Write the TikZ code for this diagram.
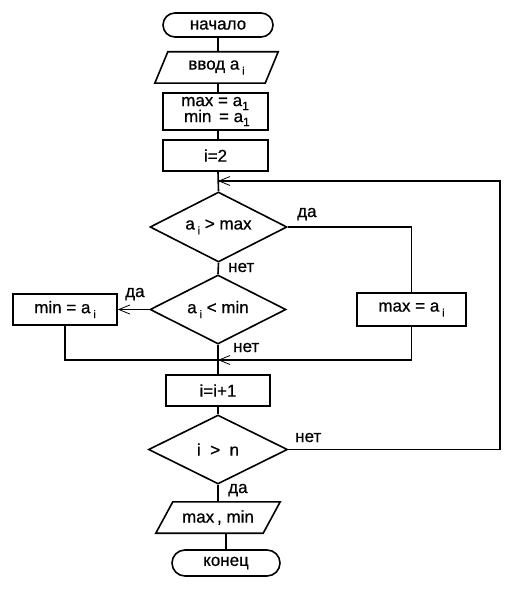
\documentclass[tikz,border=0pt]{standalone}
\usepackage{fontspec}
\setmainfont{Liberation Sans}[BoldFont={Liberation Sans},BoldFeatures={FakeBold=0.7}]
\usetikzlibrary{shapes.geometric,shapes.misc,arrows.meta}
\newcommand\subi{\,\raisebox{-5pt}{\fontsize{11}{11}\selectfont i}}
\newcommand\subone{\raisebox{-4pt}{\fontsize{12}{12}\selectfont 1}}
\begin{document}
\begin{tikzpicture}[x=1pt,y=-1pt,
  font=\fontsize{17}{19}\selectfont\bfseries,
  line/.style={line width=1.6pt},
  arr/.style={-{Straight Barb[length=11pt,width=9pt,line width=0.8pt]}},
  term/.style={rounded rectangle,draw,line width=1.6pt,inner sep=0pt},
  procbox/.style={rectangle,draw,line width=1.6pt,inner sep=0pt},
  iobox/.style={rectangle,inner sep=0pt},
  decide/.style={diamond,draw,line width=1.6pt,inner sep=0pt,aspect=2},
  lbl/.style={inner sep=0pt,anchor=base west}]
\useasboundingbox (0,0) rectangle (527,596);
% nodes
\node[term,minimum width=110pt,minimum height=24pt] (start) at (218,25) {начало};
\node[iobox,minimum width=110pt,minimum height=31pt] (in) at (216.5,67.5) {ввод a\subi};
\draw[line] ([xshift=6.5pt]in.north west) -- ([xshift=6.5pt]in.north east)
  -- ([xshift=-6.5pt]in.south east) -- ([xshift=-6.5pt]in.south west) -- cycle;
\node[procbox,minimum width=105pt,minimum height=37pt,align=left] (mm) at (215.5,111.5)
  {max = a\subone\\[-3pt]\,min \,= a\subone};
\node[procbox,minimum width=105pt,minimum height=31pt] (i2) at (215.5,155.5) {i=2};
\coordinate (j1) at (218,181);
\node[decide,minimum width=137pt,minimum height=70pt] (d1) at (218.5,227) {a\subi\ > max};
\node[decide,minimum width=136pt,minimum height=69pt] (d2) at (218,309.5) {a\subi\ <\ min};
\node[procbox,minimum width=104pt,minimum height=31pt] (minb) at (65,309.5) {min = a\subi};
\node[procbox,minimum width=109pt,minimum height=33pt] (maxb) at (411.5,309.5) {max = a\subi};
\coordinate (j2) at (218,360);
\node[procbox,minimum width=104pt,minimum height=31pt] (inc) at (218,390.5) {i=i+1};
\node[decide,minimum width=139pt,minimum height=69pt] (d3) at (218,449.5) {i \ > \ n};
\coordinate (loopc) at (500,181);
\node[iobox,minimum width=107pt,minimum height=31pt] (out) at (218,517.5) {max\,, min};
\draw[line] ([xshift=8.5pt]out.north west) -- ([xshift=8.5pt]out.north east)
  -- ([xshift=-8.5pt]out.south east) -- ([xshift=-8.5pt]out.south west) -- cycle;
\node[term,minimum width=108pt,minimum height=26pt] (end) at (226,563) {конец};
% connectors
\draw[line] (start.south) -- (start.south |- in.north);
\draw[line] (start.south |- in.south) -- (start.south |- mm.north);
\draw[line] (start.south |- mm.south) -- (start.south |- i2.north);
\draw[line] (start.south |- i2.south) -- (d1.north);
\draw[line,arr] (d3.east) -| (loopc) -- (j1);
\draw[line] (d1.east) -| (maxb.north);
\draw[line] (d1.south) -- (d2.north);
\draw[line,arr] (d2.west) -- (minb.east);
\draw[line] (minb.south) |- (j2);
\draw[line,arr] (maxb.south) |- (j2);
\draw[line] (d2.south) -- (inc.north);
\draw[line] (inc.south) -- (d3.north);
\draw[line] (d3.south) -- (out.north);
\draw[line] (end.north |- out.south) -- (end.north);
% labels
\node[lbl] (l1) at (297,217) {да};
\node[lbl] (l2) at (228,272) {нет};
\node[lbl] (l3) at (125,297) {да};
\node[lbl] (l4) at (233,352) {нет};
\node[lbl] (l5) at (295,442) {нет};
\node[lbl] (l6) at (228,493) {да};
\end{tikzpicture}
\end{document}
